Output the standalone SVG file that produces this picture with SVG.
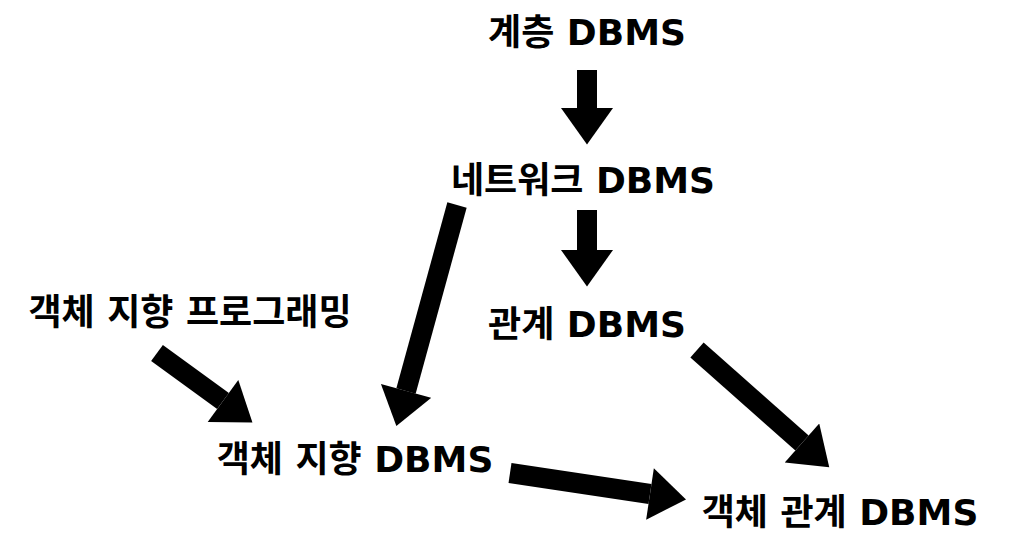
<svg xmlns="http://www.w3.org/2000/svg" width="1013" height="554" viewBox="0 0 1013 554">
<style>
text{font-family:"DejaVu Sans","Noto Sans CJK KR",sans-serif;font-weight:bold;font-size:36px;fill:#000;text-anchor:middle}
.c line{stroke:#000;stroke-width:20;marker-end:url(#h)}
</style>
<defs><marker id="h" viewBox="0 0 7 10" refX="0" refY="5" markerWidth="2" markerHeight="2.6" orient="auto"><path d="M0,0L7,5L0,10z" fill="#000"/></marker></defs>
<rect width="1013" height="554" fill="#fff"/>
<g id="n1"><text x="587" y="45">계층 DBMS</text></g>
<g id="n2"><text x="583" y="193">네트워크 DBMS</text></g>
<g id="n3"><text x="587" y="337">관계 DBMS</text></g>
<g id="n4"><text x="190" y="325">객체 지향 프로그래밍</text></g>
<g id="n5"><text x="355" y="472">객체 지향 DBMS</text></g>
<g id="n6"><text x="840" y="525">객체 관계 DBMS</text></g>
<g class="c" id="connectors">
<line x1="587" y1="70" x2="587" y2="108"/>
<line x1="587" y1="210" x2="587" y2="250"/>
<line x1="457" y1="205" x2="406" y2="391"/>
<line x1="157" y1="353" x2="223" y2="401"/>
<line x1="697" y1="350" x2="802" y2="443"/>
<line x1="510" y1="473" x2="650" y2="494"/>
</g>
</svg>
